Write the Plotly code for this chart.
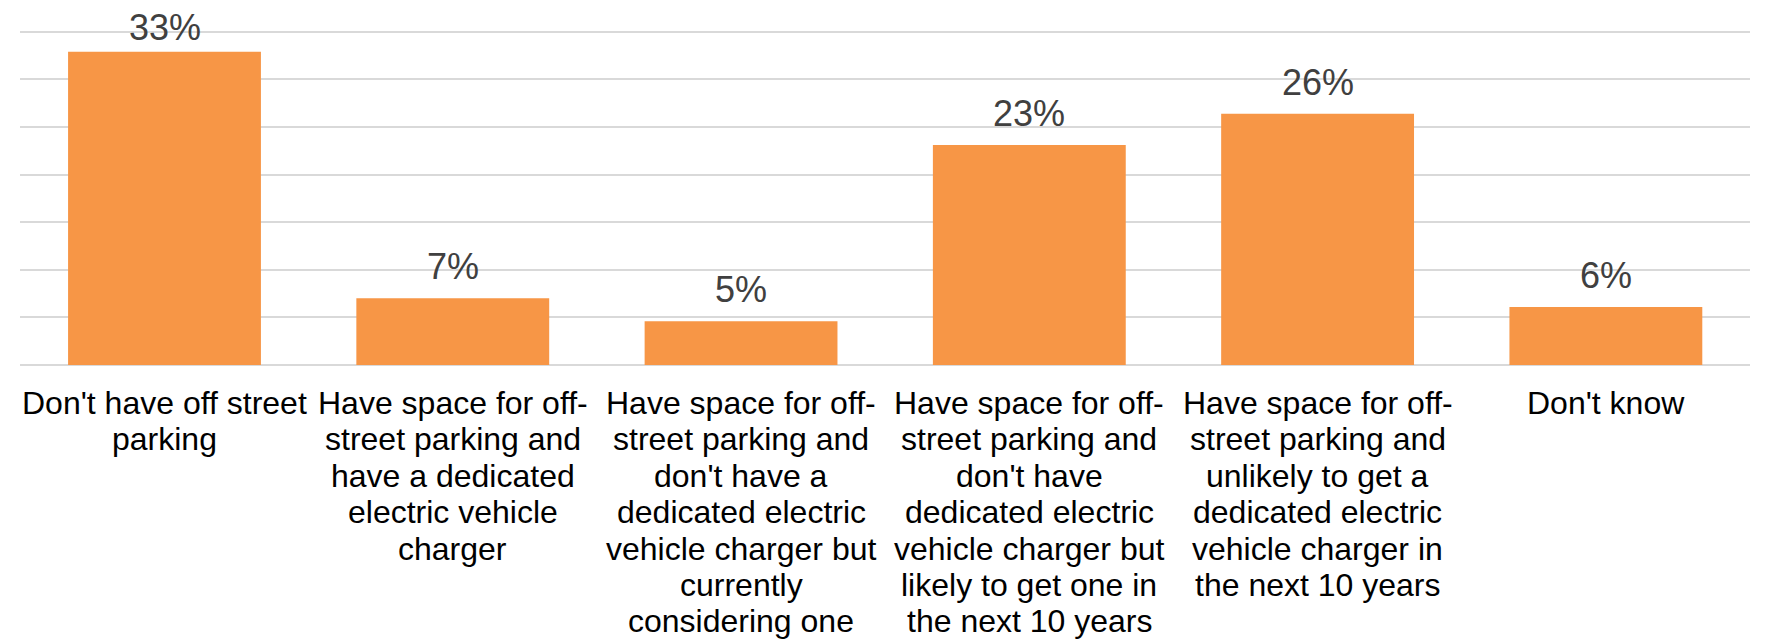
import plotly.graph_objects as go

categories = [
    "Don't have off street parking",
    "Have space for off-street parking and have a dedicated electric vehicle charger",
    "Have space for off-street parking and don't have a dedicated electric vehicle charger but currently considering one",
    "Have space for off-street parking and don't have dedicated electric vehicle charger but likely to get one in the next 10 years",
    "Have space for off-street parking and unlikely to get a dedicated electric vehicle charger in the next 10 years",
    "Don't know",
]
# how each category label wraps in the reference
label_lines = [
    ["Don't have off street", "parking"],
    ["Have space for off-", "street parking and", "have a dedicated", "electric vehicle", "charger"],
    ["Have space for off-", "street parking and", "don't have a", "dedicated electric",
     "vehicle charger but", "currently", "considering one"],
    ["Have space for off-", "street parking and", "don't have", "dedicated electric",
     "vehicle charger but", "likely to get one in", "the next 10 years"],
    ["Have space for off-", "street parking and", "unlikely to get a", "dedicated electric",
     "vehicle charger in", "the next 10 years"],
    ["Don't know"],
]
values = [32.9, 7.0, 4.6, 23.1, 26.4, 6.1]
y_ticks = [0, 5, 10, 15, 20, 25, 30, 35]

BAR = "#F79646"
GRID = "#D9D9D9"
FONT = "Liberation Sans, Arial, sans-serif"
LINE_H = 36.4
FIRST_OFF = 38.0
LABEL_SHIFT = 9
TOP_LABEL_SHIFT = 2   # tallest bar's label is squeezed against the chart top

fig = go.Figure()
fig.add_trace(go.Bar(
    x=categories,
    y=values,
    marker=dict(color=BAR, line=dict(width=0)),
    hoverinfo="skip",
))

vmax = max(values)
for c, v in zip(categories, values):
    fig.add_annotation(
        x=c, y=v, xref="x", yref="y",
        text=f"{v:.0f}%",
        showarrow=False,
        yanchor="bottom",
        yshift=TOP_LABEL_SHIFT if v == vmax else LABEL_SHIFT,
        font=dict(family=FONT, size=36, color="#404040"),
    )

for c, lines in zip(categories, label_lines):
    for i, line in enumerate(lines):
        fig.add_annotation(
            x=c, y=0, xref="x", yref="y",
            text=line,
            showarrow=False,
            yanchor="middle",
            yshift=-(FIRST_OFF + i * LINE_H),
            font=dict(family=FONT, size=32, color="#000000"),
        )

# page body has an 8px default margin, so the figure is sized to fit the window
fig.update_layout(
    width=1759,
    height=632,
    margin=dict(l=12, r=17, t=19, b=275, autoexpand=False),
    paper_bgcolor="white",
    plot_bgcolor="white",
    bargap=0.331,
    showlegend=False,
    font=dict(family=FONT, color="#000000"),
)
fig.update_xaxes(
    showgrid=False,
    showline=False,
    ticks="",
    showticklabels=False,
    automargin=False,
)
fig.update_yaxes(
    range=[0, 35.5],
    tickvals=y_ticks,
    showticklabels=False,
    showgrid=True,
    gridcolor=GRID,
    gridwidth=2,
    zeroline=True,
    zerolinecolor=GRID,
    zerolinewidth=2,
    showline=False,
    automargin=False,
)

fig.write_html("out.html")
